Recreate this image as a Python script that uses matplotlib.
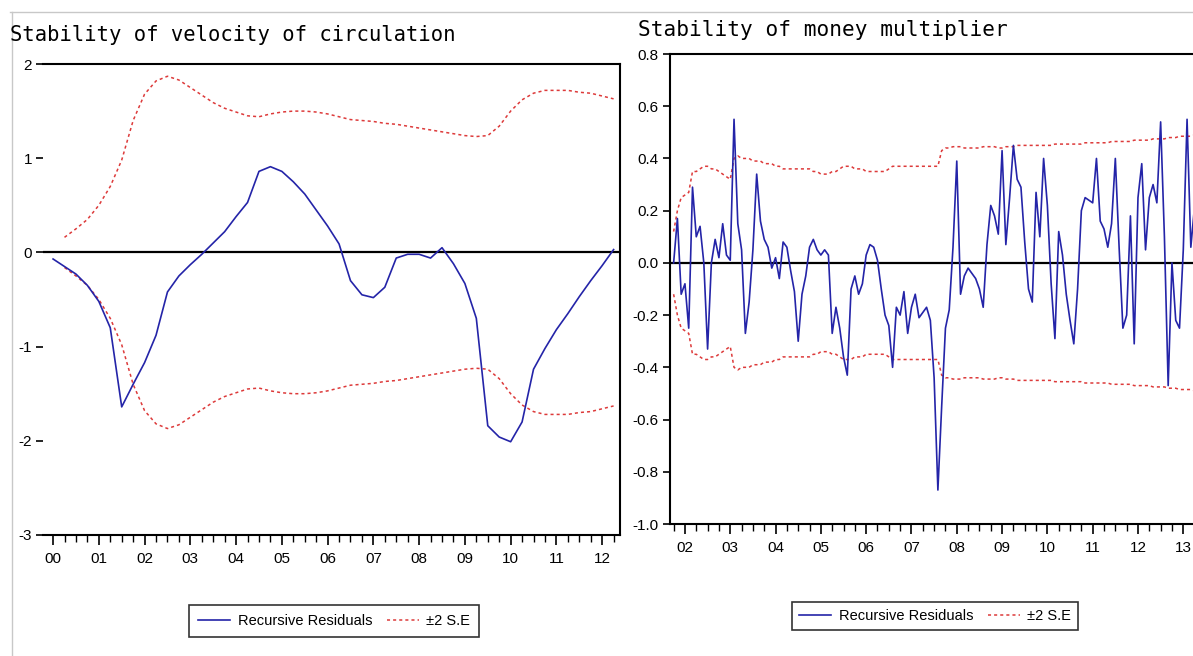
import numpy as np
import pandas as pd
import matplotlib
matplotlib.use("Agg")
import matplotlib.pyplot as plt
from matplotlib.lines import Line2D
from matplotlib.ticker import FixedLocator, MultipleLocator

# ---- Left panel: velocity of circulation, quarterly, 2000Q1 onwards ----
vel_resid = [
    -0.07, -0.15, -0.23, -0.35, -0.52, -0.80, -1.64, -1.40, -1.17, -0.88,
    -0.42, -0.25, -0.13, -0.02, 0.10, 0.22, 0.38, 0.53, 0.86, 0.91,
    0.86, 0.75, 0.62, 0.45, 0.28, 0.09, -0.30, -0.45, -0.48, -0.37,
    -0.06, -0.02, -0.02, -0.06, 0.05, -0.12, -0.33, -0.70, -1.84, -1.96,
    -2.01, -1.80, -1.24, -1.02, -0.82, -0.65, -0.47, -0.30, -0.14, 0.03,
]
# 2 S.E. band starts one quarter later (2000Q2)
vel_se2 = [
    0.16, 0.25, 0.35, 0.50, 0.70, 0.98, 1.40, 1.68, 1.82, 1.87,
    1.83, 1.75, 1.67, 1.59, 1.53, 1.49, 1.45, 1.44, 1.47, 1.49,
    1.50, 1.50, 1.49, 1.47, 1.44, 1.41, 1.40, 1.39, 1.37, 1.36,
    1.34, 1.32, 1.30, 1.28, 1.26, 1.24, 1.23, 1.24, 1.34, 1.50,
    1.62, 1.69, 1.72, 1.72, 1.72, 1.70, 1.69, 1.66, 1.63,
]
vel_years = ["00", "01", "02", "03", "04", "05", "06", "07", "08", "09", "10", "11", "12"]

# ---- Right panel: money multiplier, monthly, 2001M10 onwards ----
mm_resid = [
    0.00, 0.17, -0.12, -0.08, -0.25, 0.29, 0.10, 0.14, 0.00, -0.33,
    0.00, 0.09, 0.02, 0.15, 0.03, 0.01, 0.55, 0.15, 0.05, -0.27,
    -0.15, 0.05, 0.34, 0.16, 0.09, 0.06, -0.02, 0.02, -0.06, 0.08,
    0.06, -0.03, -0.11, -0.30, -0.12, -0.05, 0.06, 0.09, 0.05, 0.03,
    0.05, 0.03, -0.27, -0.17, -0.25, -0.36, -0.43, -0.10, -0.05, -0.12,
    -0.08, 0.03, 0.07, 0.06, 0.01, -0.10, -0.20, -0.24, -0.40, -0.17,
    -0.20, -0.11, -0.27, -0.17, -0.12, -0.21, -0.19, -0.17, -0.22, -0.44,
    -0.87, -0.55, -0.25, -0.18, 0.06, 0.39, -0.12, -0.05, -0.02, -0.04,
    -0.06, -0.10, -0.17, 0.07, 0.22, 0.18, 0.11, 0.43, 0.07, 0.25,
    0.45, 0.32, 0.29, 0.08, -0.10, -0.15, 0.27, 0.10, 0.40, 0.22,
    -0.08, -0.29, 0.12, 0.03, -0.12, -0.22, -0.31, -0.10, 0.20, 0.25,
    0.24, 0.23, 0.40, 0.16, 0.13, 0.06, 0.15, 0.40, 0.06, -0.25,
    -0.20, 0.18, -0.31, 0.25, 0.38, 0.05, 0.25, 0.30, 0.23, 0.54,
    0.10, -0.47, 0.00, -0.22, -0.25, 0.05, 0.55, 0.06, 0.22, 0.30,
]
mm_se2 = [
    0.12, 0.20, 0.25, 0.26, 0.27, 0.35, 0.35, 0.36, 0.37, 0.37,
    0.36, 0.36, 0.35, 0.34, 0.33, 0.32, 0.40, 0.41, 0.40, 0.40,
    0.40, 0.39, 0.39, 0.39, 0.38, 0.38, 0.38, 0.37, 0.37, 0.36,
    0.36, 0.36, 0.36, 0.36, 0.36, 0.36, 0.36, 0.35, 0.35, 0.34,
    0.34, 0.34, 0.35, 0.35, 0.36, 0.37, 0.37, 0.37, 0.36, 0.36,
    0.36, 0.35, 0.35, 0.35, 0.35, 0.35, 0.35, 0.36, 0.37, 0.37,
    0.37, 0.37, 0.37, 0.37, 0.37, 0.37, 0.37, 0.37, 0.37, 0.37,
    0.37, 0.43, 0.44, 0.44, 0.445, 0.445, 0.445, 0.44, 0.44, 0.44,
    0.44, 0.44, 0.445, 0.445, 0.445, 0.445, 0.44, 0.44, 0.445, 0.445,
    0.445, 0.45, 0.45, 0.45, 0.45, 0.45, 0.45, 0.45, 0.45, 0.45,
    0.45, 0.455, 0.455, 0.455, 0.455, 0.455, 0.455, 0.455, 0.455, 0.46,
    0.46, 0.46, 0.46, 0.46, 0.46, 0.46, 0.465, 0.465, 0.465, 0.465,
    0.465, 0.465, 0.47, 0.47, 0.47, 0.47, 0.47, 0.475, 0.475, 0.475,
    0.475, 0.48, 0.48, 0.48, 0.485, 0.485, 0.485, 0.485, 0.49, 0.49,
]
mm_years = ["02", "03", "04", "05", "06", "07", "08", "09", "10", "11", "12", "13"]

# ---- time axes as fractional years ----
q = pd.period_range("2000Q1", periods=len(vel_resid), freq="Q")
t_vel = np.array(q.year + (q.quarter - 1) / 4.0)
t_vel_se = t_vel[len(vel_resid) - len(vel_se2):]
m = pd.period_range("2001-10", periods=len(mm_resid), freq="M")
t_mm = np.array(m.year + (m.month - 1) / 12.0)

BLUE = "#2424a8"
RED = "#dd3a3a"
W, H = 1193, 656
plt.rcParams["font.family"] = ["Liberation Sans", "DejaVu Sans"]

fig = plt.figure(figsize=(W / 100, H / 100), dpi=100, facecolor="white")

# screenshot frame lines
fig.add_artist(Line2D([10 / W, 1], [1 - 12 / H, 1 - 12 / H], color="#c8c8c8", lw=1))
fig.add_artist(Line2D([12 / W, 12 / W], [0, 1 - 12 / H], color="#c8c8c8", lw=1))


def px_axes(x0, y0, x1, y1):
    return fig.add_axes([x0 / W, 1 - y1 / H, (x1 - x0) / W, (y1 - y0) / H])


def style(ax, years, first_year):
    for s in ax.spines.values():
        s.set_linewidth(1.5)
        s.set_color("black")
    ax.axhline(0, color="black", lw=1.6, zorder=1)
    ax.xaxis.set_major_locator(FixedLocator(first_year + np.arange(len(years))))
    ax.set_xticklabels(years)
    ax.xaxis.set_minor_locator(MultipleLocator(0.25))
    ax.tick_params(axis="x", which="major", direction="out", length=7, width=1.2,
                   labelsize=11, pad=5)
    ax.tick_params(axis="x", which="minor", direction="out", length=5, width=1.0)
    ax.tick_params(axis="y", direction="out", length=5, width=1.2, labelsize=11, pad=3)


# ---- left panel ----
ax1 = px_axes(43, 64, 620, 535)
ax1.plot(t_vel, vel_resid, color=BLUE, lw=1.2, label="Recursive Residuals", zorder=3)
ax1.plot(t_vel_se, vel_se2, color=RED, lw=1.1, ls=(0, (2, 2)), label="±2 S.E", zorder=2)
ax1.plot(t_vel_se, -np.array(vel_se2), color=RED, lw=1.1, ls=(0, (2, 2)), zorder=2)
ax1.set_xlim(1999.78, 2012.39)
ax1.set_ylim(-3, 2)
ax1.set_yticks([-3, -2, -1, 0, 1, 2])
ax1.set_yticklabels(["-3", "-2", "-1", "0", "1", "2"])
style(ax1, vel_years, 2000)
ax1.spines["left"].set_visible(False)

# ---- right panel (cut off by the image edge) ----
ax2 = px_axes(670, 54, 1215, 524)
ax2.plot(t_mm, mm_resid, color=BLUE, lw=1.2, label="Recursive Residuals", zorder=3)
ax2.plot(t_mm, mm_se2, color=RED, lw=1.1, ls=(0, (2, 2)), label="±2 S.E", zorder=2)
ax2.plot(t_mm, -np.array(mm_se2), color=RED, lw=1.1, ls=(0, (2, 2)), zorder=2)
ax2.set_xlim(2001.67, 2013.70)
ax2.set_ylim(-1.0, 0.8)
ax2.set_yticks(np.arange(-1.0, 0.81, 0.2))
ax2.set_yticklabels(["-1.0", "-0.8", "-0.6", "-0.4", "-0.2", "0.0", "0.2", "0.4", "0.6", "0.8"])
style(ax2, mm_years, 2002)

# ---- titles ----
fig.text(10 / W, 1 - 35 / H, "Stability of velocity of circulation", family="DejaVu Sans Mono",
         fontsize=14.8, va="center", ha="left")
fig.text(638 / W, 1 - 30 / H, "Stability of money multiplier", family="DejaVu Sans Mono",
         fontsize=15.2, va="center", ha="left")

# ---- legends ----
for ax, cx, cy, bp in [(ax1, 334, 621, 0.6), (ax2, 935, 616, 0.5)]:
    leg = ax.legend(loc="center", bbox_to_anchor=(cx / W, 1 - cy / H),
                    bbox_transform=fig.transFigure, ncol=2, fontsize=10.5,
                    frameon=True, fancybox=False, edgecolor="black",
                    handlelength=2.2, columnspacing=1.0, handletextpad=0.5,
                    borderpad=bp)
    leg.get_frame().set_linewidth(1.2)

fig.savefig("out.png", dpi=100, facecolor="white")
